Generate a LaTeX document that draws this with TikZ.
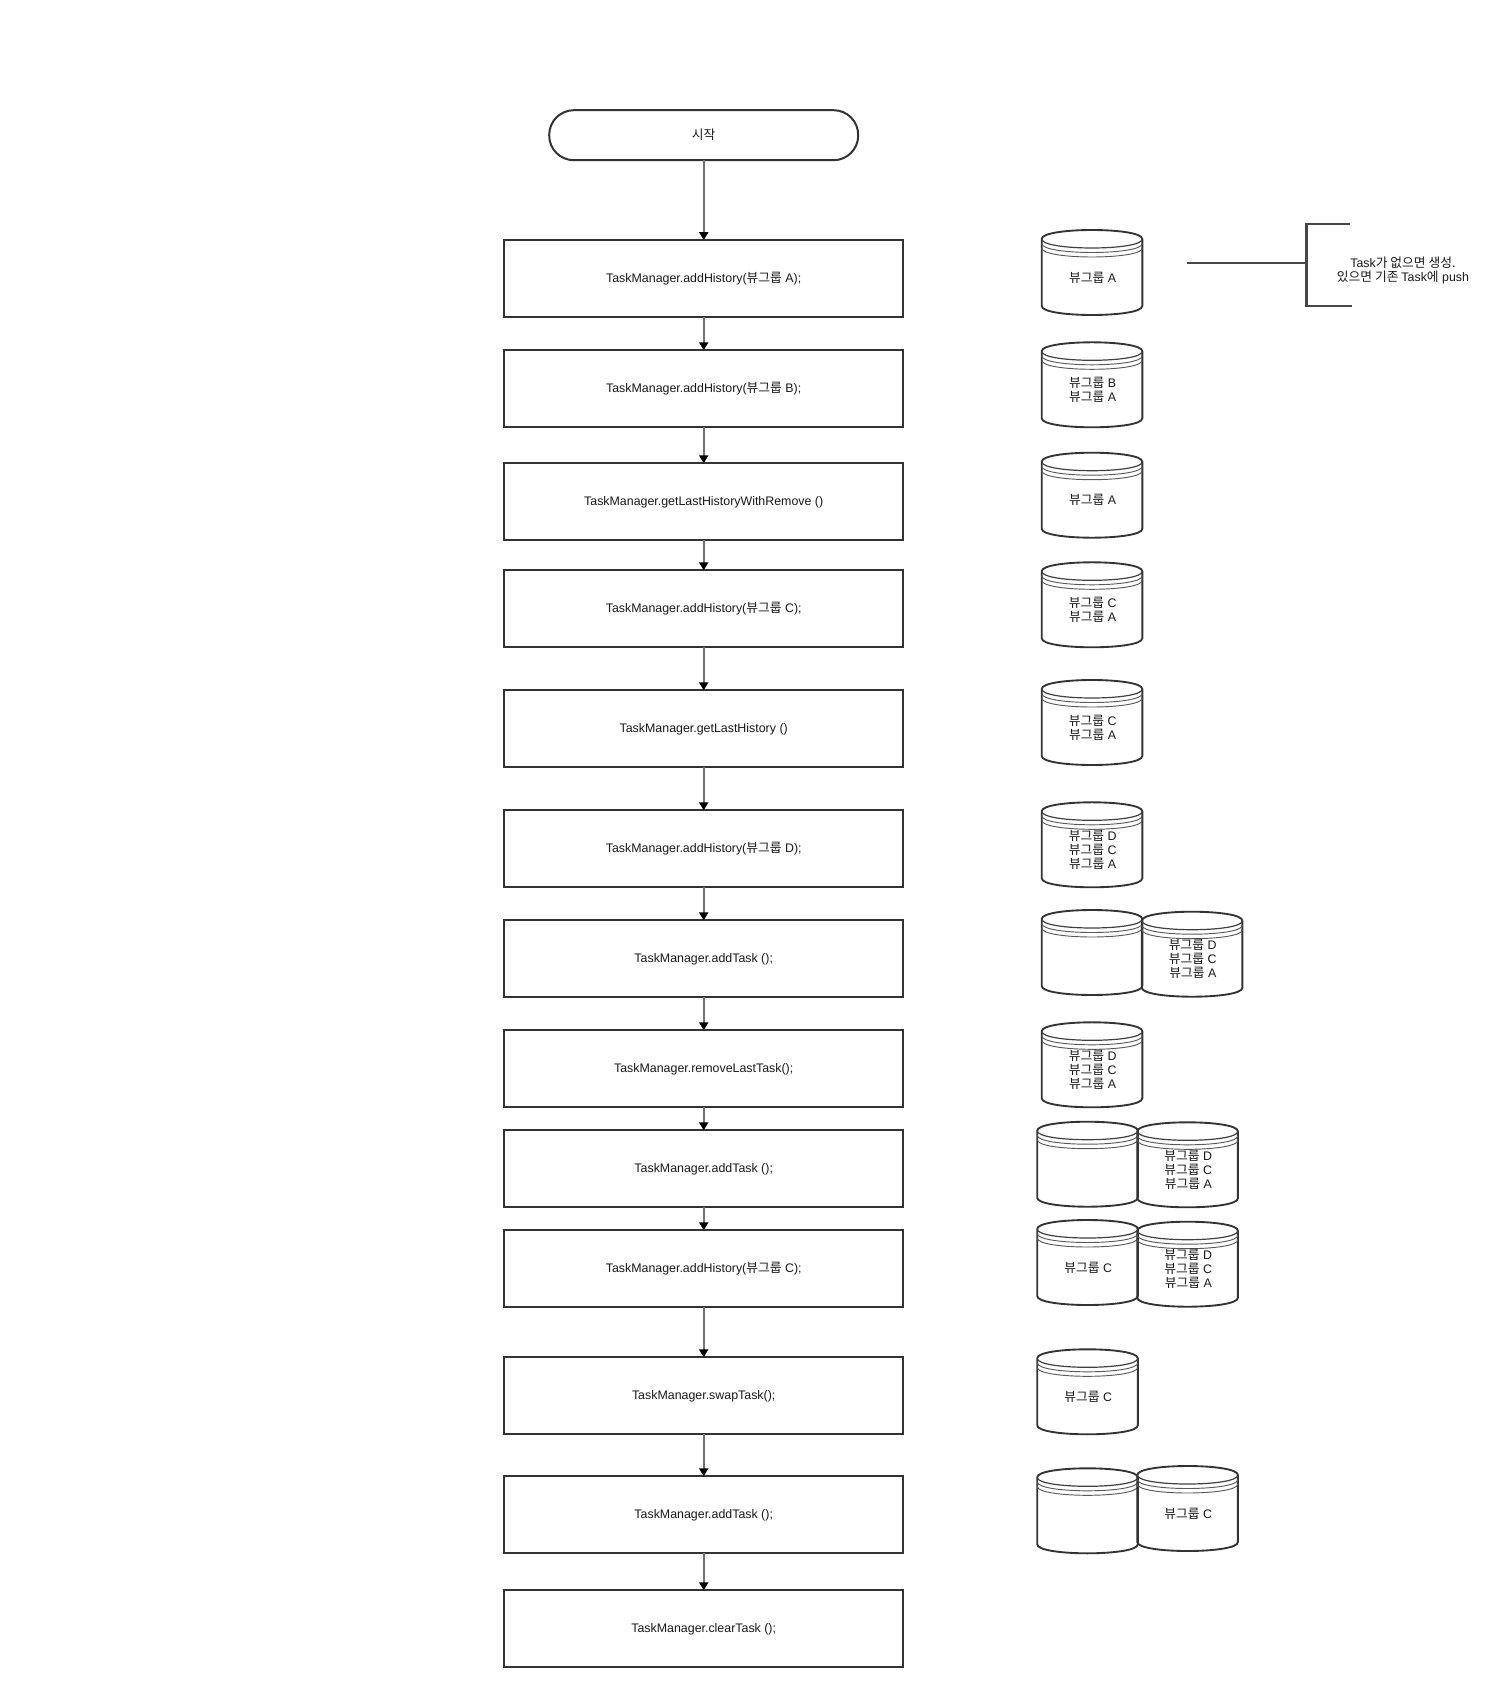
\documentclass[tikz,border=0pt]{standalone}
\usepackage{fontspec}
\setmainfont{Liberation Sans}
\newfontfamily\krfont[Scale=1.03]{Noto Sans CJK KR}
\usetikzlibrary{arrows.meta}
\newcommand{\vg}{{\krfont 뷰그룹}}
\tikzset{
	lbl/.style={font=\fontsize{9.3}{10.5}\selectfont, text=black!90, align=center, inner sep=0pt},
	taskbox/.style={lbl, draw=black!80, line width=1.5pt, minimum width=299.25pt, minimum height=57.75pt, text height=7.6pt, text depth=1.8pt, outer sep=0pt},
	startbox/.style={lbl, draw=black!80, line width=1.5pt, minimum width=231.75pt, minimum height=37.5pt, rounded corners=18.5pt, outer sep=0pt},
	flow/.style={draw=black!55, line width=1.6pt, -{Triangle[length=6pt,width=6.75pt,color=black]}},
	bracket/.style={draw=black!72, line width=2.1pt},
	viewstack/.pic={
		% Mantel und Deckel
		\draw [draw=black!80, line width=1.4pt] (0,9) .. controls (0,-3) and (100.6,-3) .. (100.6,9) -- (100.6,76) .. controls (100.6,88) and (0,88) .. (0,76) -- cycle;
		\draw [draw=black!75, line width=0.9pt] (0,9) .. controls (0,21) and (100.6,21) .. (100.6,9);
		\draw [draw=black!65, line width=0.7pt] (0,13.5) .. controls (0,25.5) and (100.6,25.5) .. (100.6,13.5);
		\draw [draw=black!65, line width=0.7pt] (0,18) .. controls (0,30) and (100.6,30) .. (100.6,18);
		\node [lbl] (-text) at (51,47.5) {#1};
	}
}
\begin{document}
\begin{tikzpicture}[x=0.75pt,y=-0.75pt]
	\useasboundingbox (0,0) rectangle (1498,1687);
	% Ablauf
	\node [startbox] (start) at (703.7,135.2) {{\krfont 시작}};
	\foreach \boxname/\ypos/\boxtext in {
		addA/278.6/{TaskManager.addHistory(\vg{} A);},
		addB/388.8/{TaskManager.addHistory(\vg{} B);},
		lastRemove/501.8/{TaskManager.getLastHistoryWithRemove ()},
		addC/608.8/{TaskManager.addHistory(\vg{} C);},
		last/728.8/{TaskManager.getLastHistory ()},
		addD/848.8/{TaskManager.addHistory(\vg{} D);},
		taskOne/958.8/{TaskManager.addTask ();},
		removeTask/1068.8/{TaskManager.removeLastTask();},
		taskTwo/1168.8/{TaskManager.addTask ();},
		addCTwo/1268.8/{TaskManager.addHistory(\vg{} C);},
		swap/1395.8/{TaskManager.swapTask();},
		taskThree/1514.8/{TaskManager.addTask ();},
		clear/1628.8/{TaskManager.clearTask ();}} {
		\node [taskbox] (\boxname) at (703.7,\ypos) {\boxtext};
	}
	\foreach \from/\to in {start/addA,addA/addB,addB/lastRemove,lastRemove/addC,addC/last,last/addD,addD/taskOne,taskOne/removeTask,removeTask/taskTwo,taskTwo/addCTwo,addCTwo/swap,swap/taskThree,taskThree/clear} {
		\draw [flow] (\from) -- (\to);
	}
	% Stapel
	\pic (stA) at (1041.7,230) {viewstack={\vg{} A}};
	\pic (stB) at (1041.7,342.3) {viewstack={\vg{} B\\\vg{} A}};
	\pic (stC) at (1041.7,452.7) {viewstack={\vg{} A}};
	\pic (stD) at (1041.7,562.3) {viewstack={\vg{} C\\\vg{} A}};
	\pic (stE) at (1041.7,680) {viewstack={\vg{} C\\\vg{} A}};
	\pic (stF) at (1041.7,802.3) {viewstack={\vg{} D\\\vg{} C\\\vg{} A}};
	\pic (stGa) at (1041.7,910) {viewstack={}};
	\pic (stGb) at (1141.8,911.7) {viewstack={\vg{} D\\\vg{} C\\\vg{} A}};
	\pic (stH) at (1041.7,1022.3) {viewstack={\vg{} D\\\vg{} C\\\vg{} A}};
	\pic (stIa) at (1037.2,1121.7) {viewstack={}};
	\pic (stIb) at (1137.3,1122.3) {viewstack={\vg{} D\\\vg{} C\\\vg{} A}};
	\pic (stJa) at (1037.2,1220) {viewstack={\vg{} C}};
	\pic (stJb) at (1137.3,1221.7) {viewstack={\vg{} D\\\vg{} C\\\vg{} A}};
	\pic (stK) at (1037.2,1349.3) {viewstack={\vg{} C}};
	\pic (stLa) at (1037.2,1468.3) {viewstack={}};
	\pic (stLb) at (1137.3,1466) {viewstack={\vg{} C}};
	% Klammer mit Anmerkung
	\coordinate (brFree) at (1187,263);
	\coordinate (brJoin) at (1306.7,263);
	\coordinate (brTopEnd) at (1350,224);
	\coordinate (brTopCorner) at (1306.7,224);
	\coordinate (brBotCorner) at (1306.7,306);
	\coordinate (brBotEnd) at (1352,306);
	\draw [bracket] (brFree) -- (brJoin);
	\draw [bracket] (brTopEnd) -- (brTopCorner) -- (brBotCorner) -- (brBotEnd);
	\node [lbl] (note) at (1403,270.6) {Task{\krfont 가 없으면 생성.}\\{\krfont 있으면 기존 }Task{\krfont 에} push};
\end{tikzpicture}
\end{document}
